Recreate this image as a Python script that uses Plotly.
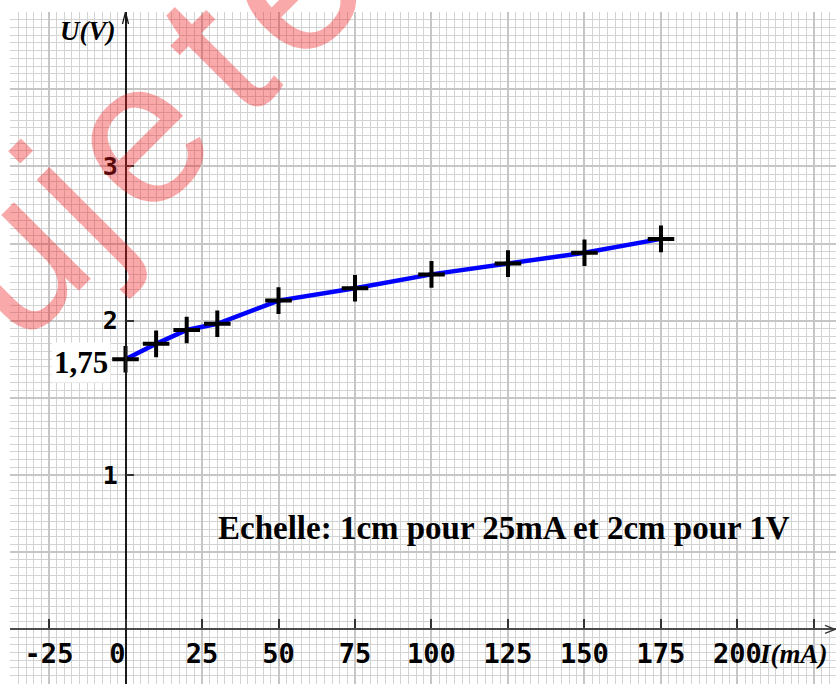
import math
import plotly.graph_objects as go

# Measured characteristic U = f(I)
I_mA = [0, 10, 20, 30, 50, 75, 100, 125, 150, 175]
U_V = [1.75, 1.85, 1.94, 1.98, 2.13, 2.21, 2.30, 2.37, 2.44, 2.53]

# Axis ticks
x_tickvals = [-25, 0, 25, 50, 75, 100, 125, 150, 175, 200, 225]
x_ticktext = ["-25", "0\u00a0", "25", "50", "75", "100", "125", "150", "175", "200", ""]
y_tickvals = [1, 2, 3]
y_ticktext = ["1", "2", "3"]

# Figure geometry (1 cm = 25 mA horizontally, 2 cm = 1 V vertically)
W, H = 836, 684
ML, MR, MT, MB = 10, 0, 12, 0
PW, PH = W - ML - MR, H - MT - MB
X_RANGE = [-37.75, 232.2]
Y_RANGE = [-0.354, 4.0]

def px_x(x):
    return (x - ML) / PW

def px_y(y):
    return (H - MB - y) / PH

pos_x0 = (0 - X_RANGE[0]) / (X_RANGE[1] - X_RANGE[0])
pos_y0 = (0 - Y_RANGE[0]) / (Y_RANGE[1] - Y_RANGE[0])

fig = go.Figure()

fig.add_trace(go.Scatter(
    x=I_mA, y=U_V, mode="lines+markers",
    line=dict(color="#0000ff", width=4.5),
    marker=dict(symbol="cross-thin", size=19, color="black",
                line=dict(color="black", width=4)),
    hoverinfo="x+y", showlegend=False,
))

# invisible trace carrying the tick axes
fig.add_trace(go.Scatter(
    x=[I_mA[0]], y=[U_V[0]], xaxis="x2", yaxis="y2", mode="markers",
    marker=dict(opacity=0), hoverinfo="skip", showlegend=False,
))

grid_major = "#c6c6c6"
grid_minor = "#d3d3d3"

fig.update_layout(
    width=W, height=H,
    margin=dict(l=ML, r=MR, t=MT, b=MB, pad=0),
    paper_bgcolor="white", plot_bgcolor="white",
    xaxis=dict(
        range=X_RANGE, showticklabels=False, ticks="", zeroline=False,
        showline=False, tick0=0, dtick=25,
        showgrid=True, gridcolor=grid_major, gridwidth=2,
        minor=dict(tick0=0, dtick=2.5, showgrid=True, gridcolor=grid_minor,
                   gridwidth=1, ticks=""),
    ),
    yaxis=dict(
        range=Y_RANGE, showticklabels=False, ticks="", zeroline=False,
        showline=False, tick0=0, dtick=0.5,
        showgrid=True, gridcolor=grid_major, gridwidth=2,
        minor=dict(tick0=0, dtick=0.05, showgrid=True, gridcolor=grid_minor,
                   gridwidth=1, ticks=""),
    ),
    xaxis2=dict(
        range=X_RANGE, overlaying="x", anchor="free", position=pos_y0,
        side="bottom", tickmode="array", tickvals=x_tickvals, ticktext=x_ticktext,
        ticks="inside", ticklen=9, tickwidth=1.5, tickcolor="#333333",
        showline=True, linecolor="#4a4a4a", linewidth=2,
        showgrid=False, zeroline=False,
        tickfont=dict(family="DejaVu Sans Mono", size=27, color="black", weight="bold"),
        ticklabelstandoff=0,
    ),
    yaxis2=dict(
        range=Y_RANGE, overlaying="y", anchor="free", position=pos_x0,
        side="left", tickmode="array", tickvals=y_tickvals, ticktext=y_ticktext,
        ticks="inside", ticklen=8, tickwidth=1.5, tickcolor="#333333",
        showline=True, linecolor="#1a1a1a", linewidth=1.5,
        showgrid=False, zeroline=False,
        tickfont=dict(family="DejaVu Sans Mono", size=25, color="black", weight="bold"),
        ticklabelstandoff=2,
    ),
)

# arrow tips of the axes
fig.add_shape(type="path", xref="x", yref="y", xsizemode="pixel", ysizemode="pixel",
              xanchor=0, yanchor=Y_RANGE[1], path="M -3,-12 L 0,0 L 3,-12",
              line=dict(color="#1a1a1a", width=1.3))
fig.add_shape(type="path", xref="x", yref="y", xsizemode="pixel", ysizemode="pixel",
              xanchor=X_RANGE[1], yanchor=0, path="M -11,4 L -1,0 L -11,-4",
              line=dict(color="#333333", width=1.3))

serif_bi = dict(family="Liberation Serif", size=27, color="black", weight="bold", style="italic")

fig.add_annotation(text="U(V)", xref="paper", yref="paper", x=px_x(118), y=px_y(31),
                   xanchor="right", yanchor="middle", showarrow=False, font=serif_bi)
fig.add_annotation(text="I(mA)", xref="paper", yref="paper", x=px_x(830), y=px_y(654),
                   xanchor="right", yanchor="middle", showarrow=False, font=serif_bi)

fig.add_annotation(text="1,75", x=I_mA[0], y=U_V[0], xref="x", yref="y",
                   xanchor="right", yanchor="middle", xshift=-15, yshift=-3.5,
                   showarrow=False, bgcolor="white", borderpad=2,
                   font=dict(family="Liberation Serif", size=31, color="black", weight="bold"))

fig.add_annotation(text="Echelle: 1cm pour 25mA et 2cm pour 1V",
                   xref="paper", yref="paper", x=px_x(504), y=px_y(528),
                   xanchor="center", yanchor="middle", showarrow=False,
                   font=dict(family="Liberation Serif", size=33, color="black", weight="bold"))

# watermark, one letter at a time along a 45 degree baseline
wm_letters = ["u", "j", "e", "t", "e"]
wm_offsets = [-176, -94, 0, 114, 216]
wm_angle = 45
wm_h = -190
th = math.radians(wm_angle)
for ch, s in zip(wm_letters, wm_offsets):
    sx = s * math.cos(th) - wm_h * math.sin(th)
    sy = -s * math.sin(th) - wm_h * math.cos(th)
    fig.add_annotation(text=ch, xref="paper", yref="paper", x=px_x(sx), y=px_y(sy),
                       xanchor="center", yanchor="middle", showarrow=False,
                       textangle=-wm_angle,
                       font=dict(family="Liberation Sans", size=205,
                                 color="rgba(238,30,30,0.38)"))

fig.write_html("out.html")
